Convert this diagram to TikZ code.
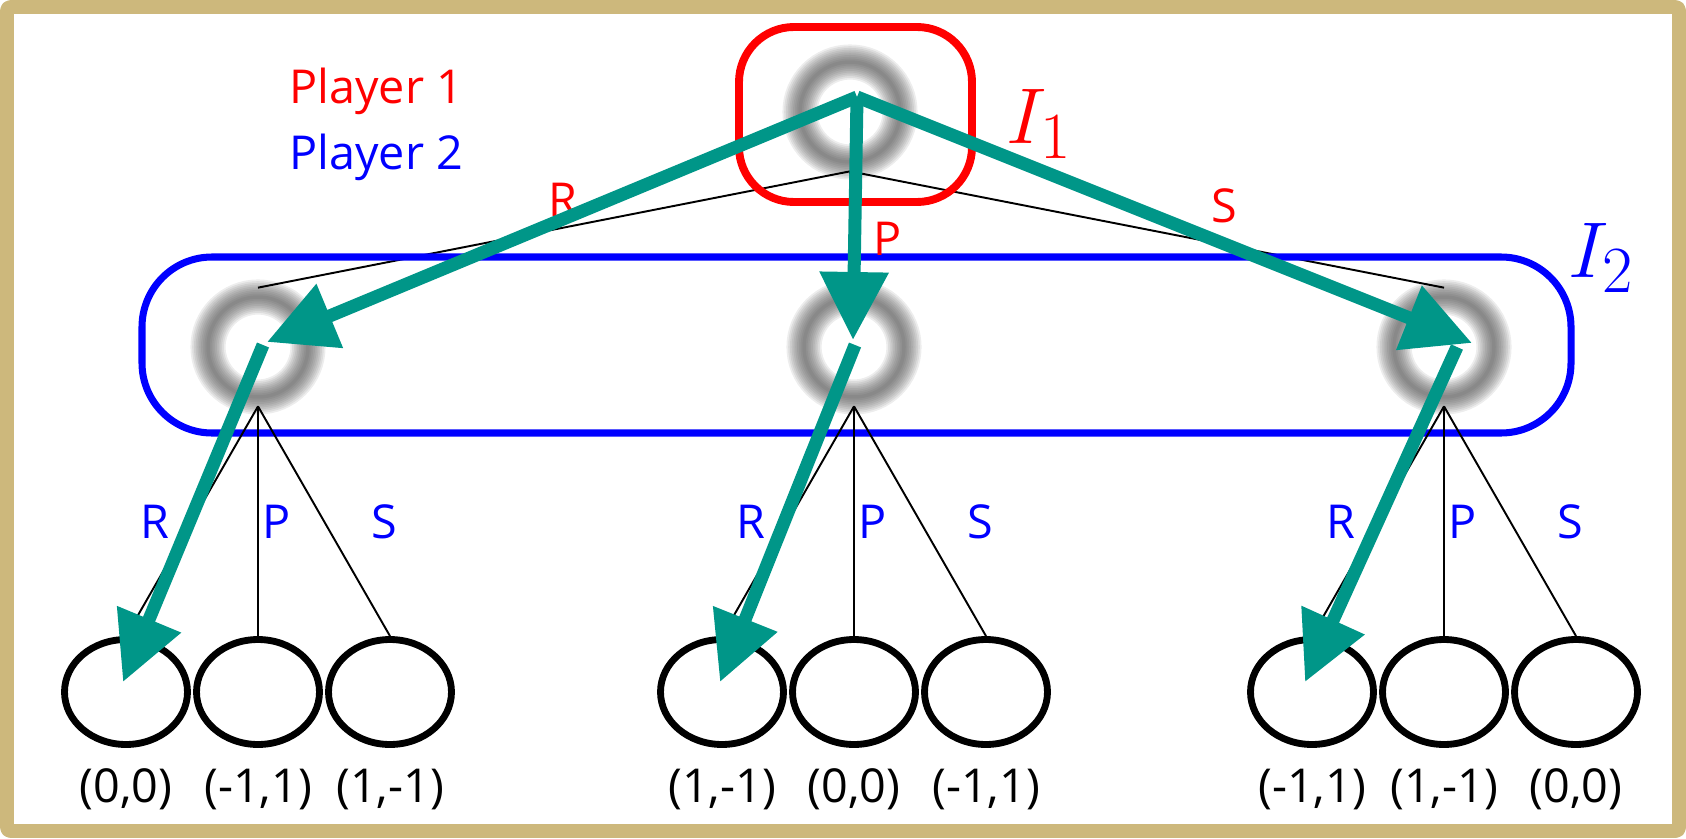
\documentclass[tikz,border=0pt]{standalone}
\usepackage[no-math]{fontspec}
\setmainfont{Open Sans}
\usetikzlibrary{arrows.meta,shapes.geometric}
\definecolor{frametan}{HTML}{CDB87C}
\definecolor{moveteal}{HTML}{009688}
\begin{document}
\begin{tikzpicture}[x=0.02cm, y=-0.02cm, line join=round,
	pnode/.style={circle, minimum size=2.36cm, inner sep=0pt},
	leaf/.style={ellipse, draw, fill=white, line width=3.9pt, minimum width=2.46cm, minimum height=2.1cm, inner sep=0pt},
	edge/.style={black, line width=1.1pt},
	lab/.style={font=\fontsize{26.6}{30}\selectfont, inner sep=0pt, anchor=base},
	plab/.style={font=\fontsize{26.6}{30}\selectfont, inner sep=0pt, anchor=base west},
	infoset/.style={font=\fontsize{24.88}{28}\selectfont, inner sep=0pt, anchor=base west},
	move/.style={moveteal, line width=7.4pt, -{Triangle[length=1.36cm, width=1.32cm]},
		preaction={draw=black, opacity=0.18, transform canvas={xshift=2pt, yshift=-2.5pt}}}]
	\useasboundingbox (0,0) rectangle (1686,838);
	% 1. khung ngoai
	\draw[frametan, line width=7.9pt, rounded corners=2pt] (7,7) rectangle (1679,831);
	% 2. cac nut quyet dinh
	\node[pnode] (root) at (850,112) {};
	\node[pnode] (nR) at (258,347) {};
	\node[pnode] (nP) at (854,347) {};
	\node[pnode] (nS) at (1444,347) {};
	\foreach \n in {root,nR,nP,nS} {
		\foreach \w in {20,18,...,2}
			\draw[black!70, opacity=0.1, line width=\w pt] (\n) circle[radius=1cm];
	}
	\foreach \n in {nR,nP,nS}
		\draw[edge] (root.south) -- (\n.north);
	% 3. tap thong tin
	\draw[red, line width=4.5pt, rounded corners=1.1cm] (739,27) rectangle (972,202);
	\draw[blue, line width=4pt, rounded corners=1.4cm] (142,257) rectangle (1571,433);
	\node[infoset, red] (I1) at (1006,143) {\scalebox{1.81}{$I_1$}};
	\node[infoset, blue] (I2) at (1568,277) {\scalebox{1.81}{$I_2$}};
	\node[plab, red] (pl1) at (289,104) {Player 1};
	\node[plab, blue] (pl2) at (289,169) {Player 2};
	\node[lab, red] (aR) at (563,216) {R};
	\node[lab, red] (aP) at (888,255) {P};
	\node[lab, red] (aS) at (1224,222) {S};
	% 4. la va ket qua
	\foreach \g/\x/\pa/\pb/\pc in {R/258/{(0,0)}/{(-1,1)}/{(1,-1)}, P/854/{(1,-1)}/{(0,0)}/{(-1,1)}, S/1444/{(-1,1)}/{(1,-1)}/{(0,0)}} {
		\foreach \m/\dx/\pay in {R/-132/\pa, P/0/\pb, S/132/\pc} {
			\node[leaf] (l\g\m) at (\x+\dx,692) {};
			\node[lab] (v\g\m) at (\x+\dx,802) {\pay};
			\draw[edge] (n\g.south) -- (l\g\m.north);
		}
		\node[lab, blue] (b\g R) at (\x-103,538) {R};
		\node[lab, blue] (b\g P) at (\x+19,538) {P};
		\node[lab, blue] (b\g S) at (\x+126,538) {S};
	}
	% 5. chien luoc
	\draw[move] ([shift={(7,-15)}]root.center) -- ([shift={(9,-5)}]nR.center);
	\draw[move] ([shift={(7,-15)}]root.center) -- ([shift={(-1,-7)}]nP.center);
	\draw[move] ([shift={(7,-15)}]root.center) -- ([shift={(28,-4)}]nS.center);
	\draw[move] ([shift={(5,-2)}]nR.center) -- ([shift={(-3,-10)}]lRR.center);
	\draw[move] ([shift={(1,-2)}]nP.center) -- ([shift={(-2,-10)}]lPR.center);
	\draw[move] ([shift={(13,0)}]nS.center) -- ([shift={(-7,-10)}]lSR.center);
\end{tikzpicture}
\end{document}
